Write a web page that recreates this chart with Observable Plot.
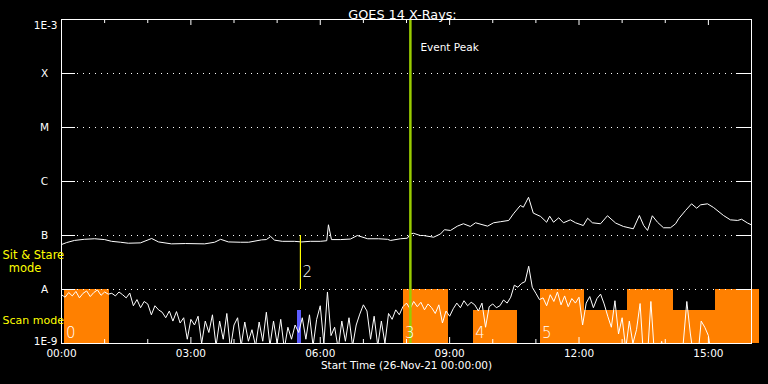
<!DOCTYPE html>
<html><head><meta charset="utf-8">
<style>html,body{margin:0;padding:0;background:#000;} svg{display:block;}</style>
<script src="https://cdn.jsdelivr.net/npm/d3@7"></script>
<script src="https://cdn.jsdelivr.net/npm/@observablehq/plot@0.6"></script>
</head><body><div id="chart"></div>
<script>
// ---------- text ----------
const titleText = "GOES 14 X-Rays:";
const xAxisTitle = "Start Time (26-Nov-21 00:00:00)";
const eventPeakLabel = "Event Peak";
const sitStareLabel = "Sit & Stare";
const sitStareLabel2 = "mode";
const scanLabel = "Scan mode";

// ---------- axes ----------
const hourTicks = [0,1,2,3,4,5,6,7,8,9,10,11,12,13,14,15,16];
const majorTicks = [0,3,6,9,12,15];
const majorTickLabels = ["00:00","03:00","06:00","09:00","12:00","15:00"];
const levelValues = [1e-9,1e-8,1e-7,1e-6,1e-5,1e-4,1e-3];
const levelLabels = ["1E-9","A","B","C","M","X","1E-3"];

// ---------- GOES long channel (1-8 Å), flux in 1e-9 W/m² ----------
const longHours = [0.0,0.12,0.30,0.53,0.77,1.0,1.16,1.37,1.55,1.83,
2.09,2.25,2.55,2.88,3.32,3.55,3.69,3.87,4.15,4.34,
4.64,4.75,4.85,4.94,5.12,5.40,5.57,5.77,6.0,6.15,
6.19,6.26,6.47,6.70,6.86,7.10,7.35,7.56,7.63,7.86,
8.02,8.09,8.16,8.32,8.39,8.63,8.79,8.88,9.02,9.18,
9.32,9.48,9.60,9.88,10.02,10.18,10.37,10.48,10.64,10.71,
10.83,10.94,11.11,11.25,11.32,11.41,11.53,11.64,11.80,11.92,
12.10,12.20,12.31,12.50,12.66,12.85,13.03,13.26,13.40,13.50,
13.59,13.70,13.82,13.96,14.12,14.24,14.31,14.47,14.61,14.73,
14.82,14.98,15.12,15.35,15.51,15.68,15.77,15.91,15.98];
const longFlux = [68,74,81,85,87,84,78,75,72,73,
88,76,70,71,70,75,85,76,75,75,
83,84,96,82,78,78,76,78,78,80,
158,84,84,86,100,87,87,85,81,87,
89,107,110,100,100,93,107,128,124,149,
165,147,172,149,172,180,190,252,360,334,
510,260,225,176,228,176,213,172,195,172,
153,209,172,165,232,170,147,133,235,153,
124,232,176,139,139,165,204,290,386,320,
370,386,330,235,195,190,200,170,160];

// ---------- GOES short channel (0.5-4 Å), 5-minute cadence from 00:00, flux in 1e-9 W/m² ----------
const shortCadenceMin = 5;
const shortFlux = [
8.0,7.2,8.8,7.6,9.2,7.0,8.5,9.4,7.4,8.8,9.8,7.8,9.0,8.2,
8.5,7.6,9.0,8.0,7.0,8.6,
5.0,6.5,4.6,6.0,5.4,
3.4,5.0,4.2,3.8,
3.0,4.0,2.6,
3.9,
2.4,3.0,1.2,2.8,
2.2,3.2,1.0,2.6,1.6,
3.4,0.9,2.6,1.2,3.6,0.8,2.2,3.0,0.9,2.5,1.1,
1.8,0.9,2.5,1.1,3.8,0.9,2.6,1.0,2.8,0.8,2.0,1.2,2.2,1.6,
3.0,1.2,3.4,0.9,2.8,5.0,1.0,9.0,1.4,
2.0,0.8,2.6,1.1,3.0,0.9,2.2,
3.5,5.2,4.0,
1.2,3.2,0.9,2.6,1.0,3.6,
2.8,4.2,3.4,4.8,
5.6,4.4,6.0,4.8,5.8,4.2,5.4,
4.6,3.6,5.2,2.4,4.0,3.2,
4.4,5.6,4.6,6.2,5.0,5.8,
5.2,4.0,5.6,2.0,4.8,5.4,4.6,
5.0,6.4,5.6,7.2,
12.0,11.0,13.0,
14,27,
11.0,8.5,6.5,
7.0,5.0,8.0,6.0,9.0,5.2,7.6,4.8,6.8,5.6,7.2,
2.2,
5.6,7.4,4.6,6.8,8.2,5.4,
3.2,2.0,
6.2,
1.5,3.0,0.8,2.6,1.0,
1.8,
5.5,
0.5,0.5,
6.0,0.6,
0.5,1.1,0.5,0.5,0.5,0.5,0.5,
1.0,6.0,1.5,
0.5,0.5,
2.6,2.0,1.4,
0.5,0.5,0.5,0.5,0.5,0.5,0.5,0.5,0.5,0.5,0.5,0.5];

// ---------- observation blocks ----------
const obsStart = [0.07,7.93,9.56,11.11,12.13,13.13,14.18,15.17];
const obsEnd   = [1.11,8.98,10.58,12.13,13.13,14.18,15.17,16.19];
const obsMode  = ["full","full","half","full","half","full","half","full"];
const obsLabel = ["0","3","4","5","","","",""];
const blueObsStart = 5.47, blueObsEnd = 5.565;
const sitStareHour = 5.54, sitStareLabelNum = "2";
const eventPeakHour = 8.09;

// ---------- build ----------
const modeTop = {full: 1e-8, half: 4.1e-9};
const longData = longHours.map((h,i) => ({h, f: longFlux[i]*1e-9}));
const shortData = shortFlux.map((v,i) => ({h: i*shortCadenceMin/60, f: v*1e-9}));
const obs = obsStart.map((s,i) => ({start:s, end:obsEnd[i], mode:obsMode[i], label:obsLabel[i]}));
const levels = levelValues.map((v,i) => ({v, label: levelLabels[i]}));
const gridLevels = levelValues.slice(1, -1);
const minorTicks = hourTicks.filter(h => !majorTicks.includes(h));

const font = "DejaVu Sans";
const chart = Plot.plot({
  width: 768, height: 384,
  marginLeft: 61, marginRight: 17, marginTop: 19, marginBottom: 41,
  style: {background: "#000", color: "#fff", fontFamily: font, fontSize: "10.5px"},
  x: {domain: [0, 16], axis: null},
  y: {type: "log", domain: [1e-9, 1e-3], axis: null},
  marks: [
    Plot.rect(obs, {x1: "start", x2: "end", y1: () => 1e-9, y2: d => modeTop[d.mode], fill: "#ff8000", shapeRendering: "crispEdges"}),
    Plot.rect([{s: blueObsStart, e: blueObsEnd}], {x1: "s", x2: "e", y1: () => 1e-9, y2: () => modeTop.half, fill: "#5c5cff", shapeRendering: "crispEdges"}),
    Plot.ruleY(gridLevels, {y: d => d, stroke: "#fff", strokeDasharray: "1,5", insetLeft: 16, insetRight: 15}),
    Plot.line(shortData, {x: "h", y: "f", stroke: "#fff", strokeWidth: 1, clip: true}),
    Plot.line(longData, {x: "h", y: "f", stroke: "#fff", strokeWidth: 1, clip: true}),
    Plot.ruleX([sitStareHour], {x: d => d, y1: () => 1e-7, y2: () => 1e-8, stroke: "#ffff00", strokeWidth: 1.2}),
    Plot.ruleX([eventPeakHour], {x: d => d, stroke: "#99cc00", strokeWidth: 2.5}),
    // ticks
    Plot.ruleX(minorTicks, {x: d => d, stroke: "#fff", insetBottom: 320}),
    Plot.ruleX(majorTicks, {x: d => d, stroke: "#fff", insetBottom: 318}),
    Plot.ruleX(minorTicks, {x: d => d, stroke: "#fff", insetTop: 320}),
    Plot.ruleX(majorTicks, {x: d => d, stroke: "#fff", insetTop: 318}),
    Plot.ruleY(levelValues, {y: d => d, stroke: "#fff", insetRight: 676}),
    Plot.ruleY(levelValues, {y: d => d, stroke: "#fff", insetLeft: 675}),
    Plot.frame({stroke: "#fff"}),
    // axis labels
    Plot.text(majorTicks, {x: d => d, text: (d, i) => majorTickLabels[i], frameAnchor: "bottom", dy: 13, fill: "#fff"}),
    Plot.text(levels.filter(d => d.label.length === 1), {y: "v", text: "label", frameAnchor: "left", dx: -17, textAnchor: "middle", fill: "#fff"}),
    Plot.text(levels.filter(d => d.label.length > 1), {y: "v", text: "label", frameAnchor: "left", dx: -4, textAnchor: "end", fill: "#fff"}),
    Plot.text([titleText], {frameAnchor: "top", dy: -10, dx: -4, fontSize: 12.8, fill: "#fff"}),
    Plot.text([xAxisTitle], {frameAnchor: "bottom", dy: 25, fill: "#fff"}),
    Plot.text([eventPeakLabel], {x: () => eventPeakHour, frameAnchor: "top", dx: 10, dy: 24, textAnchor: "start", fill: "#fff"}),
    Plot.text([sitStareLabelNum], {x: () => sitStareHour, y: () => 1e-8, dx: 2, dy: -17, textAnchor: "start", fontSize: 15, fontWeight: 200, fill: "#fff"}),
    Plot.text(obs.filter(d => d.label), {x: "start", y: () => 1e-9, text: "label", dx: 1.5, dy: -10.5, textAnchor: "start", fontSize: 15, fontWeight: 200, fill: "#fff"}),
    Plot.text([sitStareLabel], {frameAnchor: "bottom-left", dx: -59, dy: -84.5, textAnchor: "start", fontSize: 11.5, fill: "#ffff00"}),
    Plot.text([sitStareLabel2], {frameAnchor: "bottom-left", dx: -36.5, dy: -72, textAnchor: "middle", fontSize: 11.5, fill: "#ffff00"}),
    Plot.text([scanLabel], {frameAnchor: "bottom-left", dx: -59, dy: -19.5, textAnchor: "start", fontSize: 11, fill: "#ffff00"})
  ]
});
// nudge 1E-3 below its tick and 1E-9 above its tick
chart.querySelectorAll("text").forEach(t => {
  if (t.textContent === "1E-3") t.setAttribute("dy", "0.6em");
  if (t.textContent === "1E-9") t.setAttribute("dy", "-0.15em");
});
document.getElementById("chart").appendChild(chart);
</script>
</body></html>
